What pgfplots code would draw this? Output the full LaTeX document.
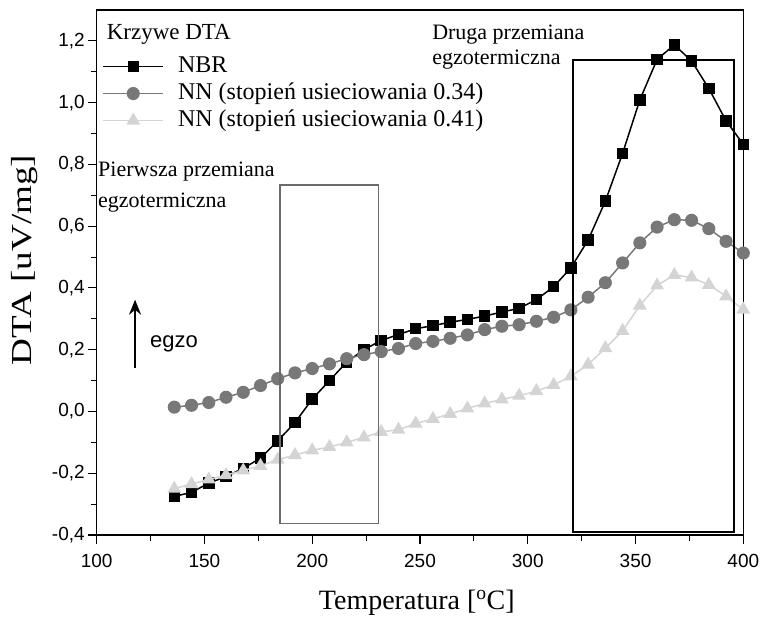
\documentclass[border=0pt]{standalone}
\usepackage{fontspec}
\setmainfont{Liberation Serif}
\setsansfont{Liberation Sans}
\usepackage{graphicx}
\usepackage{pgfplots}
\pgfplotsset{compat=1.18}
\usetikzlibrary{arrows.meta}
\definecolor{midgray}{gray}{0.47}
\definecolor{lightg}{gray}{0.83}
\definecolor{boxgray}{gray}{0.42}
\begin{document}
\begin{tikzpicture}
\begin{axis}[
  name=ax,
  scale only axis, width=646.6pt, height=525pt,
  xmin=100, xmax=400, ymin=-0.4, ymax=1.3,
  xtick={100,150,200,250,300,350,400},
  ytick={-0.4,-0.2,0,0.2,0.4,0.6,0.8,1.0,1.2},
  minor x tick num=1, minor y tick num=1,
  tick align=outside, xtick pos=bottom, ytick pos=left,
  major tick length=8.5pt, minor tick length=6pt,
  axis line style={line width=1.4pt},
  every tick/.style={line width=1.1pt, black},
  ticklabel style={font=\fontsize{19}{22}\selectfont\sffamily},
  /pgf/number format/assume math mode=true,
  yticklabel style={/pgf/number format/.cd, fixed, fixed zerofill, precision=1, use comma},
  xticklabel style={/pgf/number format/.cd, set thousands separator={}, /tikz/.cd, yshift=-7pt},
  xlabel={Temperatura [\textsuperscript{o}C]},
  ylabel={\scalebox{1.28}[1]{DTA [uV/mg]}},
  xlabel style={font=\fontsize{28}{32}\selectfont, at={(axis description cs:0.495,0)}, anchor=base, yshift=-74pt},
  ylabel style={font=\fontsize{29}{32}\selectfont, at={([xshift=-65pt]axis description cs:0,0.524)}, anchor=base},
  clip mode=individual,
  legend cell align=left,
  legend style={at={(rel axis cs:0.009,0.918)}, anchor=north west, draw=none, fill=none,
    inner sep=0pt, outer sep=0pt, row sep=0pt,
    font=\fontsize{24}{28}\selectfont,
    nodes={inner xsep=6pt, inner ysep=2.5pt, text height=17pt, text depth=5pt},
    /tikz/every odd column/.append style={column sep=8pt}},
  legend image code/.code={\draw[mark repeat=2,mark phase=2] plot coordinates {(0pt,0pt) (30pt,0pt) (60pt,0pt)};},
]
\addplot[black, line width=1.5pt, mark=square*, mark size=5pt, mark options={solid}] coordinates {
(136,-0.275) (144,-0.262) (152,-0.232) (160,-0.211) (168,-0.184) (176,-0.151)
(184,-0.095) (192,-0.036) (200,0.040) (208,0.100) (216,0.160) (224,0.200)
(232,0.230) (240,0.249) (248,0.268) (256,0.278) (264,0.289) (272,0.298)
(280,0.309) (288,0.322) (296,0.334) (304,0.362) (312,0.404) (320,0.465)
(328,0.555) (336,0.681) (344,0.836) (352,1.009) (360,1.140) (368,1.187)
(376,1.135) (384,1.046) (392,0.941) (400,0.865)};
\addlegendentry{NBR}
\addplot[midgray, line width=1.5pt, mark=*, mark size=5.8pt] coordinates {
(136,0.014) (144,0.020) (152,0.029) (160,0.046) (168,0.062) (176,0.084)
(184,0.106) (192,0.125) (200,0.139) (208,0.154) (216,0.171) (224,0.184)
(232,0.194) (240,0.204) (248,0.220) (256,0.227) (264,0.237) (272,0.248)
(280,0.265) (288,0.276) (296,0.281) (304,0.292) (312,0.305) (320,0.329)
(328,0.370) (336,0.417) (344,0.481) (352,0.546) (360,0.597) (368,0.621)
(376,0.619) (384,0.592) (392,0.551) (400,0.513)};
\addlegendentry{NN (stopień usieciowania 0.34)}
\addplot[lightg, line width=1.5pt, mark=triangle*, mark size=6.5pt] coordinates {
(136,-0.250) (144,-0.235) (152,-0.220) (160,-0.206) (168,-0.191) (176,-0.176)
(184,-0.156) (192,-0.141) (200,-0.126) (208,-0.115) (216,-0.100) (224,-0.084)
(232,-0.066) (240,-0.059) (248,-0.039) (256,-0.024) (264,-0.008) (272,0.010)
(280,0.026) (288,0.039) (296,0.051) (304,0.066) (312,0.086) (320,0.114)
(328,0.152) (336,0.205) (344,0.261) (352,0.343) (360,0.408) (368,0.442)
(376,0.434) (384,0.410) (392,0.373) (400,0.330)};
\addlegendentry{NN (stopień usieciowania 0.41)}
% boxes
\draw[boxgray, line width=1.5pt] (axis cs:185.1,-0.362) rectangle (axis cs:230.7,0.733);
\draw[black, line width=2pt] (axis cs:321.2,-0.389) rectangle (axis cs:395.9,1.1375);
% annotations
\node[anchor=base west, inner sep=0pt, font=\fontsize{23}{26}\selectfont] at (axis cs:104.6,1.203) {Krzywe DTA};
\node[anchor=base west, inner sep=0pt, font=\fontsize{22}{26}\selectfont] at (axis cs:100.6,0.762) {Pierwsza przemiana};
\node[anchor=base west, inner sep=0pt, font=\fontsize{22}{26}\selectfont] at (axis cs:100.6,0.660) {egzotermiczna};
\node[anchor=base west, inner sep=0pt, font=\fontsize{22}{26}\selectfont] at (axis cs:255.6,1.203) {Druga przemiana};
\node[anchor=base west, inner sep=0pt, font=\fontsize{22}{26}\selectfont] at (axis cs:255.6,1.125) {egzotermiczna};
\draw[-{Stealth[length=15pt,width=12pt]}, line width=2.2pt] (axis cs:117.8,0.142) -- (axis cs:117.8,0.362);
\node[anchor=base west, inner sep=0pt, font=\fontsize{22}{26}\selectfont\sffamily] at (axis cs:124.7,0.206) {egzo};
\end{axis}
\pgfresetboundingbox
\path[use as bounding box] ([shift={(-96.7pt,-84pt)}]ax.south west) rectangle ([shift={(18.7pt,10pt)}]ax.north east);
\end{tikzpicture}
\end{document}
